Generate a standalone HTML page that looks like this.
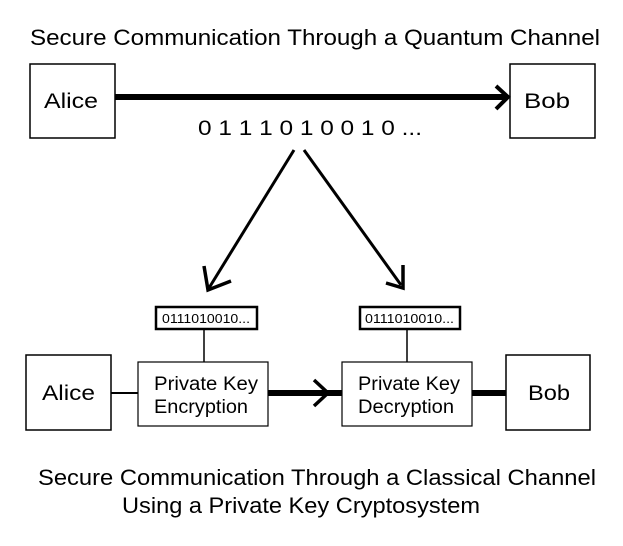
<!DOCTYPE html>
<html><head><style>
body{margin:0;background:#fff}
svg text{font-family:"Liberation Sans",Arial,sans-serif;fill:#000}
</style></head><body>
<svg width="623" height="541" viewBox="0 0 623 541" xmlns="http://www.w3.org/2000/svg" font-family="Liberation Sans, Arial, sans-serif">
<text x="30" y="45" font-size="22" textLength="570" lengthAdjust="spacingAndGlyphs">Secure Communication Through a Quantum Channel</text>
<rect x="30" y="64" width="85" height="74" fill="none" stroke="#000" stroke-width="1.5"/>
<text x="44" y="108" font-size="21" textLength="54" lengthAdjust="spacingAndGlyphs">Alice</text>
<rect x="510" y="64" width="85" height="74" fill="none" stroke="#000" stroke-width="1.5"/>
<text x="524" y="108" font-size="21" textLength="46" lengthAdjust="spacingAndGlyphs">Bob</text>
<line x1="115" y1="97" x2="506" y2="97" stroke="#000" stroke-width="6"/>
<polyline points="496,86 508,97 496,109" fill="none" stroke="#000" stroke-width="4"/>
<text x="198" y="135" font-size="21" textLength="224" lengthAdjust="spacingAndGlyphs">0 1 1 1 0 1 0 0 1 0 ...</text>
<line x1="294" y1="150" x2="209" y2="288" stroke="#000" stroke-width="3"/>
<polyline points="204,266 208,290 231,281" fill="none" stroke="#000" stroke-width="3.5"/>
<line x1="304" y1="150" x2="401" y2="285" stroke="#000" stroke-width="3"/>
<polyline points="386,283 403,288 403,265" fill="none" stroke="#000" stroke-width="3.5"/>
<rect x="156" y="307" width="101" height="22" fill="none" stroke="#000" stroke-width="2.5"/>
<text x="162" y="323" font-size="13" textLength="88" lengthAdjust="spacingAndGlyphs">0111010010...</text>
<rect x="360" y="307" width="100" height="22" fill="none" stroke="#000" stroke-width="2.5"/>
<text x="365" y="323" font-size="13" textLength="89" lengthAdjust="spacingAndGlyphs">0111010010...</text>
<line x1="204" y1="329" x2="204" y2="362" stroke="#000" stroke-width="1.5"/>
<line x1="407" y1="329" x2="407" y2="362" stroke="#000" stroke-width="1.5"/>
<rect x="26" y="355" width="85" height="75" fill="none" stroke="#000" stroke-width="1.5"/>
<text x="42" y="400" font-size="21" textLength="53" lengthAdjust="spacingAndGlyphs">Alice</text>
<rect x="138" y="362" width="130" height="64" fill="none" stroke="#000" stroke-width="1.2"/>
<text x="154" y="390" font-size="19" textLength="104" lengthAdjust="spacingAndGlyphs">Private Key</text>
<text x="154" y="413" font-size="19" textLength="94" lengthAdjust="spacingAndGlyphs">Encryption</text>
<rect x="342" y="362" width="130" height="64" fill="none" stroke="#000" stroke-width="1.2"/>
<text x="358" y="390" font-size="19" textLength="102" lengthAdjust="spacingAndGlyphs">Private Key</text>
<text x="358" y="413" font-size="19" textLength="96" lengthAdjust="spacingAndGlyphs">Decryption</text>
<rect x="506" y="355" width="84" height="75" fill="none" stroke="#000" stroke-width="1.5"/>
<text x="528" y="400" font-size="21" textLength="42" lengthAdjust="spacingAndGlyphs">Bob</text>
<line x1="111" y1="393" x2="138" y2="393" stroke="#000" stroke-width="2"/>
<line x1="268" y1="393" x2="342" y2="393" stroke="#000" stroke-width="6"/>
<polyline points="314,380 328,393 314,406" fill="none" stroke="#000" stroke-width="3.5"/>
<line x1="472" y1="393" x2="506" y2="393" stroke="#000" stroke-width="6"/>
<text x="38" y="485" font-size="22" textLength="558" lengthAdjust="spacingAndGlyphs">Secure Communication Through a Classical Channel</text>
<text x="122" y="513" font-size="22" textLength="358" lengthAdjust="spacingAndGlyphs">Using a Private Key Cryptosystem</text>
</svg>
</body></html>
